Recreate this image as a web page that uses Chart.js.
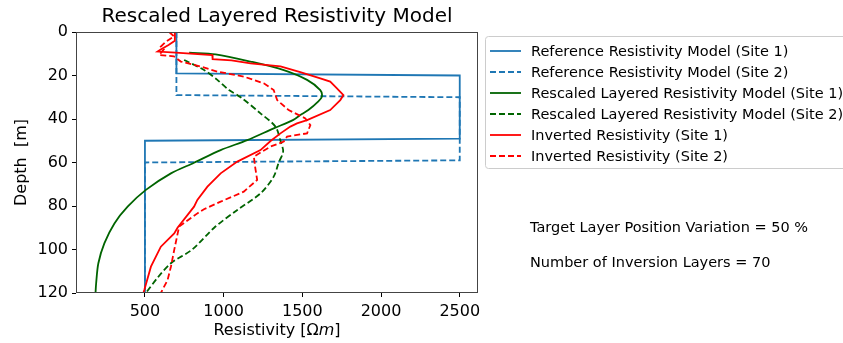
<!DOCTYPE html>
<html>
<head>
<meta charset="utf-8">
<script src="https://cdn.jsdelivr.net/npm/chart.js@4/dist/chart.umd.min.js"></script>
<style>
  html, body { margin: 0; padding: 0; background: #fff; }
  #wrap { position: relative; width: 843px; height: 343px; }
</style>
</head>
<body>
<div id="wrap"><canvas id="chart" width="843" height="343"></canvas></div>
<script>
// reference models (resistivity in Ohm m, depth in m)
const refSite1Res = [700, 700, 2500, 2500, 500, 500];
const refSite1Depth = [0, 19, 20, 49, 50, 120];
const refSite2Res = [700, 700, 2500, 2500, 500, 500];
const refSite2Depth = [0, 29, 30, 59, 60, 120];

// rescaled layered models
const rescSite1Res = [781, 949, 1171, 1382, 1530, 1614, 1624, 1600, 1538, 1487, 1440, 1318, 1150, 981, 812, 665, 506, 390, 306, 242, 204, 190, 186];
const rescSite1Depth = [9.5, 10.3, 13.6, 17.5, 22, 26.7, 29.7, 32, 35.9, 38.2, 40.5, 44.3, 49.7, 54.3, 60.1, 65, 72.6, 80.3, 88, 97.2, 106.3, 115.5, 120];
const rescSite2Res = [749, 876, 960, 1034, 1108, 1234, 1329, 1361, 1378, 1350, 1318, 1234, 1087, 940, 800, 665, 580, 506];
const rescSite2Depth = [12.9, 17.5, 22, 26.7, 30, 37.4, 43.5, 50, 55, 60, 66.5, 74.2, 81.8, 90, 100, 106.3, 113, 120];

// inverted resistivity
const invSite1Res = [690, 690, 650, 600, 580, 696, 928, 930, 1050, 1171, 1361, 1487, 1614, 1677, 1709, 1761, 1741, 1677, 1530, 1466, 1424, 1361, 1300, 1234, 1087, 981, 897, 833, 812, 707, 686, 601, 538, 496, 490];
const invSite1Depth = [0, 4, 6, 8, 9, 9.5, 10.6, 12.5, 13, 14.4, 15.8, 18.5, 21.3, 22.8, 25.1, 29, 31.3, 35.9, 40.5, 42, 43.5, 46.6, 50, 54.3, 59.6, 65, 71.1, 77.2, 80.3, 90, 92.6, 98.7, 107.9, 118.6, 120];
const invSite2Res = [654, 685, 633, 601, 620, 590, 684, 728, 854, 960, 1128, 1255, 1318, 1340, 1413, 1519, 1551, 1530, 1403, 1382, 1297, 1192, 1200, 1213, 1128, 981, 875, 833, 717, 686, 665, 644, 601];
const invSite2Depth = [0, 2, 4.4, 6.7, 8, 10.6, 11.2, 13.6, 15.9, 18.2, 20.5, 23.6, 26.7, 31.3, 35.9, 39.7, 42.8, 46.6, 48.1, 50.4, 52.7, 57.3, 62, 68, 73.4, 78, 81.5, 83.4, 89.5, 100.2, 107.9, 114, 120];

const seriesLabels = [
  'Reference Resistivity Model (Site 1)',
  'Reference Resistivity Model (Site 2)',
  'Rescaled Layered Resistivity Model (Site 1)',
  'Rescaled Layered Resistivity Model (Site 2)',
  'Inverted Resistivity (Site 1)',
  'Inverted Resistivity (Site 2)'
];
const xTicks = [500, 1000, 1500, 2000, 2500];
const yTicks = [0, 20, 40, 60, 80, 100, 120];
const notes = ['Target Layer Position Variation = 50 %', 'Number of Inversion Layers = 70'];

const BLUE = '#1f77b4', GREEN = '#006400', RED = '#ff0000';
const DASH = [6, 3];
const FONT = "'DejaVu Sans', sans-serif";

function toPoints(res, depth) {
  return res.map((v, i) => ({ x: v, y: depth[i] }));
}

const series = [
  [refSite1Res, refSite1Depth, BLUE, []],
  [refSite2Res, refSite2Depth, BLUE, DASH],
  [rescSite1Res, rescSite1Depth, GREEN, []],
  [rescSite2Res, rescSite2Depth, GREEN, DASH],
  [invSite1Res, invSite1Depth, RED, []],
  [invSite2Res, invSite2Depth, RED, DASH]
];

const datasets = series.map((s, i) => ({
  label: seriesLabels[i],
  data: toPoints(s[0], s[1]),
  borderColor: s[2],
  borderDash: s[3],
  borderWidth: 1.8,
  pointRadius: 0,
  fill: false,
  tension: i === 2 || i === 3 ? 0.3 : 0,
  order: series.length - i
}));

// title, axis titles, frame, legend and notes
const decor = {
  id: 'decor',
  afterDraw(chart) {
    const ctx = chart.ctx;
    const a = chart.chartArea;
    ctx.save();

    // frame
    ctx.strokeStyle = '#444';
    ctx.lineWidth = 1;
    ctx.setLineDash([]);
    ctx.strokeRect(a.left + 0.5, a.top + 0.5, a.right - a.left - 1, a.bottom - a.top - 1);

    ctx.fillStyle = '#000';
    // title
    ctx.font = '20px ' + FONT;
    ctx.textAlign = 'center';
    ctx.textBaseline = 'middle';
    ctx.fillText('Rescaled Layered Resistivity Model', (a.left + a.right) / 2, 17);

    // x axis title with italic m
    const p1 = 'Resistivity [Ω', p2 = 'm', p3 = ']';
    ctx.font = '16px ' + FONT;
    const w1 = ctx.measureText(p1).width, w3 = ctx.measureText(p3).width;
    ctx.font = 'italic 16px ' + FONT;
    const w2 = ctx.measureText(p2).width;
    const x0 = (a.left + a.right) / 2 - (w1 + w2 + w3) / 2;
    ctx.textAlign = 'left';
    ctx.font = '16px ' + FONT;
    ctx.fillText(p1, x0, 331);
    ctx.font = 'italic 16px ' + FONT;
    ctx.fillText(p2, x0 + w1, 331);
    ctx.font = '16px ' + FONT;
    ctx.fillText(p3, x0 + w1 + w2, 331);

    // y axis title
    ctx.save();
    ctx.translate(22, (a.top + a.bottom) / 2);
    ctx.rotate(-Math.PI / 2);
    ctx.textAlign = 'center';
    ctx.fillText('Depth  [m]', 0, 0);
    ctx.restore();

    // legend
    ctx.strokeStyle = '#cccccc';
    ctx.lineWidth = 1;
    ctx.beginPath();
    ctx.roundRect(485.5, 36.5, 370, 132, 3);
    ctx.stroke();
    ctx.font = '14.5px ' + FONT;
    ctx.textAlign = 'left';
    datasets.forEach((d, i) => {
      const y = 51 + i * 21;
      ctx.strokeStyle = d.borderColor;
      ctx.lineWidth = 1.8;
      ctx.setLineDash(d.borderDash);
      ctx.beginPath();
      ctx.moveTo(490, y);
      ctx.lineTo(521, y);
      ctx.stroke();
      ctx.setLineDash([]);
      ctx.fillStyle = '#000';
      ctx.fillText(d.label, 531, y + 1);
    });

    // notes
    ctx.font = '14.5px ' + FONT;
    ctx.fillText(notes[0], 530, 228);
    ctx.fillText(notes[1], 530, 263);

    ctx.restore();
  }
};

new Chart(document.getElementById('chart'), {
  type: 'line',
  data: { datasets: datasets },
  options: {
    responsive: false,
    animation: false,
    layout: { padding: { top: 32, right: 365, left: 0, bottom: 0 } },
    plugins: { legend: { display: false }, tooltip: { enabled: false }, title: { display: false } },
    scales: {
      x: {
        type: 'linear',
        min: 62,
        max: 2616,
        afterFit(scale) { scale.height = 50; },
        afterBuildTicks(scale) { scale.ticks = xTicks.map(v => ({ value: v })); },
        grid: { drawOnChartArea: false, drawTicks: true, tickLength: 4, tickColor: '#000' },
        border: { display: false },
        ticks: { color: '#000', font: { family: FONT, size: 16 }, padding: 5, maxRotation: 0, callback: v => String(v) }
      },
      y: {
        type: 'linear',
        reverse: true,
        min: 0,
        max: 120,
        afterFit(scale) { scale.width = 76; },
        afterBuildTicks(scale) { scale.ticks = yTicks.map(v => ({ value: v })); },
        grid: { drawOnChartArea: false, drawTicks: true, tickLength: 4, tickColor: '#000' },
        border: { display: false },
        ticks: { color: '#000', font: { family: FONT, size: 16 }, padding: 4, callback: v => String(v) }
      }
    }
  },
  plugins: [decor]
});
</script>
</body>
</html>
